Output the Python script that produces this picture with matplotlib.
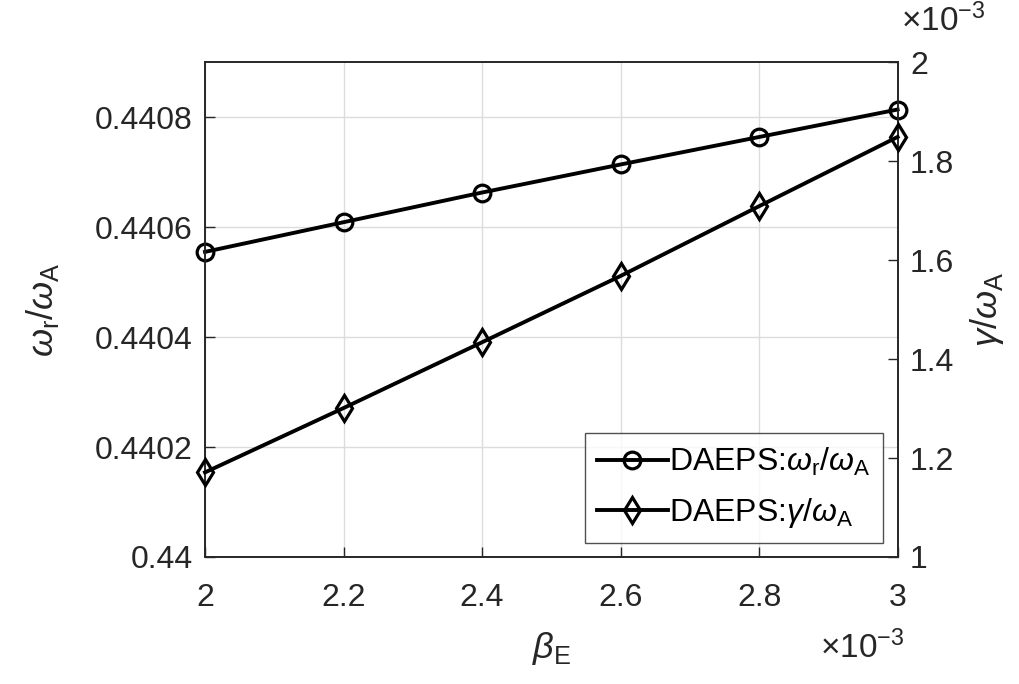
import matplotlib.pyplot as plt

plt.rcParams['font.family'] = 'Liberation Sans'
plt.rcParams['mathtext.fontset'] = 'custom'
plt.rcParams['mathtext.rm'] = 'Liberation Sans'
plt.rcParams['mathtext.it'] = 'Liberation Sans:italic'
plt.rcParams['mathtext.bf'] = 'Liberation Sans:bold'

# beta_E in units of 1e-3
beta = [2.0, 2.2, 2.4, 2.6, 2.8, 3.0]
# omega_r / omega_A (left axis)
omega_r = [0.440555, 0.440609, 0.440663, 0.440714, 0.440764, 0.440814]
# gamma / omega_A in units of 1e-3 (right axis)
gamma = [1.171, 1.301, 1.434, 1.568, 1.709, 1.849]

xticks = [2.0, 2.2, 2.4, 2.6, 2.8, 3.0]
xlabels = ['2', '2.2', '2.4', '2.6', '2.8', '3']
lticks = [0.44, 0.4402, 0.4404, 0.4406, 0.4408]
llabels = ['0.44', '0.4402', '0.4404', '0.4406', '0.4408']
rticks = [1.0, 1.2, 1.4, 1.6, 1.8, 2.0]
rlabels = ['1', '1.2', '1.4', '1.6', '1.8', '2']

txt = '#262626'
fs = 23

fig = plt.figure(figsize=(10.2, 6.84), dpi=100)
ax = fig.add_axes([0.201, 0.1857, 0.679, 0.7233])
ax2 = ax.twinx()

l1, = ax.plot(beta, omega_r, '-o', color='k', lw=2.8, ms=12, mfc='none', mew=2.3,
              clip_on=False, zorder=5)
l2, = ax2.plot(beta, gamma, '-d', color='k', lw=2.8, ms=13, mfc='none', mew=2.3,
               clip_on=False, zorder=5)

ax.set_xlim(2.0, 3.0)
ax.set_ylim(0.44, 0.4409)
ax2.set_ylim(1.0, 2.0)

ax.set_xticks(xticks)
ax.set_xticklabels(xlabels)
ax.set_yticks(lticks)
ax.set_yticklabels(llabels)
ax2.set_yticks(rticks)
ax2.set_yticklabels(rlabels)

ax.grid(True, color='#dcdcdc', lw=1.0)
ax.set_axisbelow(True)

for a in (ax, ax2):
    a.tick_params(direction='in', length=7, width=1.0, colors=txt, labelsize=fs, pad=9)
    for s in a.spines.values():
        s.set_color(txt)
        s.set_linewidth(1.2)
ax.tick_params(axis='x', pad=19)

ax.set_ylabel(r'$\omega_{\mathrm{r}}/\omega_{\mathrm{A}}$', fontsize=26, color=txt, labelpad=24)
ax2.set_ylabel(r'$\gamma/\omega_{\mathrm{A}}$', fontsize=26, color=txt, labelpad=10)
ax.set_xlabel(r'$\beta_{\mathrm{E}}$', fontsize=26, color=txt, labelpad=12)

fig.text(0.887, 0.028, r'$\times10^{-3}$', fontsize=24, color=txt, ha='right', va='bottom')
fig.text(0.883, 0.945, r'$\times10^{-3}$', fontsize=24, color=txt, ha='left', va='bottom')

leg = ax2.legend([l1, l2],
                 [r'DAEPS:$\omega_{\mathrm{r}}/\omega_{\mathrm{A}}$',
                  r'DAEPS:$\gamma/\omega_{\mathrm{A}}$'],
                 loc='lower right', fontsize=fs, frameon=True, fancybox=False,
                 edgecolor=txt, handlelength=2.2, handletextpad=0.05,
                 borderpad=0.4, labelspacing=0.55, borderaxespad=0.45)
leg.get_frame().set_linewidth(1.0)

fig.savefig('out.png', dpi=100)
